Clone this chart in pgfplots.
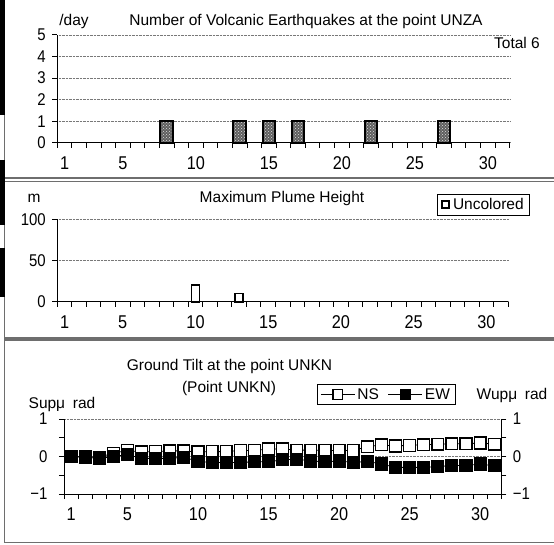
\documentclass[border=0pt]{standalone}
\usepackage{fontspec}
\setmainfont{Liberation Sans}
\newfontfamily\narrowfont[FakeStretch=0.88]{Liberation Sans}
\usepackage{pgfplots}
\pgfplotsset{compat=1.18}
\usetikzlibrary{patterns}
\newcommand{\fs}[1]{\fontsize{#1}{#1}\selectfont}
\definecolor{framecol}{RGB}{110,110,110}
\definecolor{gridcol}{RGB}{120,120,120}
\definecolor{barfill}{RGB}{95,95,95}

\pgfplotsset{
  panel/.style={
    scale only axis, anchor=south west, clip=false,
    xmin=0.5, xmax=31.5,
    axis x line*=bottom, axis y line*=left,
    tick align=outside,
    major tick length=5pt, minor tick length=5pt,
    xtick={1,5,10,15,20,25,30},
    minor xtick={0.5,1.5,...,31.5},
    major x tick style={draw=none},
    xticklabel style={font=\narrowfont\fs{18.5}, anchor=base, yshift=-21.5pt},
    yticklabel style={font=\narrowfont\fs{17}, anchor=east, xshift=-3pt},
    /pgf/number format/assume math mode=true,
    axis line style={black, line width=1pt},
    tick style={black, line width=1pt},
    ymajorgrids,
    grid style={densely dotted, gridcol, line width=0.8pt},
  }
}

\begin{document}
\begin{tikzpicture}[x=1pt,y=1pt]
\useasboundingbox (0,0) rectangle (554,544);
% panel frames and left-edge marks
\draw[framecol, line width=1.2pt] (4.7,366) rectangle (600,560);
\draw[framecol, line width=1.2pt] (4.7,206) rectangle (600,362.5);
\draw[framecol, line width=1.2pt] (4.7,1.3) rectangle (600,204);
\fill[black] (0,429) rectangle (5,544);
\fill[black] (0,319) rectangle (5,384);
\fill[black] (0,247) rectangle (5,296);

% ---------- Panel 1 ----------
\begin{axis}[panel, at={(57.3pt,401.3pt)}, width=452.4pt, height=107.7pt,
  ymin=0, ymax=5, ytick={0,1,2,3,4,5}]
\addplot[ybar, bar width=0.86, draw=black, line width=2pt, fill=barfill,
  postaction={pattern=crosshatch dots, pattern color=white!75!gray}]
  coordinates {(8,1) (13,1) (15,1) (17,1) (22,1) (27,1)};
\end{axis}
\node[font=\fs{15.5}] at (74,523) {/day};
\node[font=\fs{15.5}] at (306,523) {Number of Volcanic Earthquakes at the point UNZA};
\node[font=\fs{15.5}] at (517,501) {Total 6};

% ---------- Panel 2 ----------
\begin{axis}[panel, at={(57.3pt,242.3pt)}, width=451pt, height=82.4pt,
  ymin=0, ymax=100, ytick={0,50,100},
  legend style={at={(rel axis cs:0.842,1.307)}, anchor=north west, draw=black,
    line width=0.8pt, font=\fs{15.5}, inner xsep=4pt, inner ysep=2pt,
    /tikz/every odd column/.append style={column sep=1pt}},
  legend image code/.code={\draw[black, line width=1.6pt, fill=white] (0pt,-3.5pt) rectangle (7pt,3.5pt);}]
\addplot[ybar, bar width=0.55, draw=black, line width=1.7pt, fill=white]
  coordinates {(10,20) (13,10)};
\addlegendentry{Uncolored\hspace{8pt}}
\end{axis}
\node[font=\fs{15.5}] at (34,346) {m};
\node[font=\fs{15.5}] at (282,346) {Maximum Plume Height};

% ---------- Panel 3 ----------
\begin{axis}[panel, at={(64pt,50pt)}, width=437.3pt, height=75pt,
  ymin=-1, ymax=1, ytick={-1,0,1}, yticklabels={−1,0,1}, minor ytick={-0.5,0.5},
  yticklabel style={font=\narrowfont\fs{17}, anchor=east, xshift=-5pt},
  legend columns=2,
  legend style={at={(rel axis cs:0.5786,1.4667)}, anchor=north west, draw=black,
    line width=0.8pt, font=\fs{15.5}, inner xsep=3pt, inner ysep=2pt,
    /tikz/every even column/.append style={column sep=7pt}},
  legend image code/.code={\draw[mark repeat=2, mark phase=2, #1, mark size=4.8pt, line width=1pt]
    plot coordinates {(0pt,0pt) (17pt,0pt) (34pt,0pt)};}]
\addplot[black, line width=0.8pt, mark=square*, mark size=5.9pt,
  mark options={fill=white, draw=black, line width=1.3pt, solid}]
  table {
x y
1 0.00
2 -0.01
3 -0.02
4 0.09
5 0.16
6 0.12
7 0.13
8 0.15
9 0.15
10 0.12
11 0.13
12 0.13
13 0.16
14 0.16
15 0.20
16 0.20
17 0.17
18 0.17
19 0.16
20 0.16
21 0.16
22 0.26
23 0.31
24 0.28
25 0.30
26 0.31
27 0.33
28 0.34
29 0.34
30 0.36
31 0.33
};
\addlegendentry{NS}
\addplot[black, line width=0.8pt, mark=square*, mark size=5.9pt,
  mark options={fill=black, draw=black, line width=1.3pt, solid}]
  table {
x y
1 0.00
2 -0.02
3 -0.05
4 0.00
5 0.05
6 -0.05
7 -0.05
8 -0.05
9 -0.02
10 -0.13
11 -0.16
12 -0.16
13 -0.16
14 -0.14
15 -0.14
16 -0.09
17 -0.07
18 -0.12
19 -0.14
20 -0.12
21 -0.16
22 -0.13
23 -0.20
24 -0.29
25 -0.29
26 -0.29
27 -0.27
28 -0.24
29 -0.24
30 -0.20
31 -0.25
};
\addlegendentry{EW}
\end{axis}
\begin{axis}[scale only axis, anchor=south west, at={(64pt,50pt)}, width=437.3pt, height=75pt,
  xmin=0.5, xmax=31.5, ymin=-1, ymax=1, axis x line=none, axis y line*=right,
  tick align=outside, major tick length=5pt, minor tick length=5pt,
  ytick={-1,0,1}, yticklabels={−1,0,1}, minor ytick={-0.5,0.5},
  yticklabel style={font=\narrowfont\fs{17}, anchor=west, xshift=3pt},
  axis line style={black, line width=1pt}, tick style={black, line width=1pt}]
\addplot[draw=none] coordinates {(1,0)};
\end{axis}
\node[font=\fs{15.5}] at (229.5,178) {Ground Tilt at the point UNKN};
\node[font=\fs{15.5}] at (229,156) {(Point UNKN)};
\node[font=\fs{15.5}] at (62,140) {Supμ\hspace{0.5em}rad};
\node[font=\fs{15.5}] at (512,149) {Wupμ\hspace{0.5em}rad};
\end{tikzpicture}
\end{document}
